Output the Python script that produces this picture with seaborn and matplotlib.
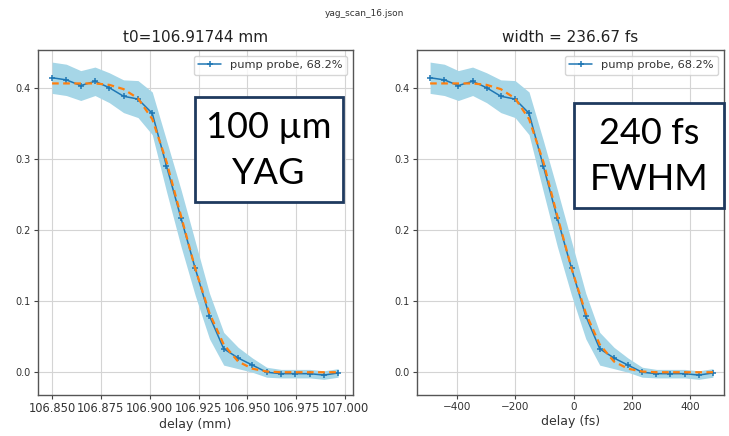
import matplotlib
matplotlib.use("Agg")
import matplotlib.pyplot as plt
import matplotlib.patches as mpatches
import seaborn as sns
import pandas as pd

# ---------------- data ----------------
delay_mm = [106.8500, 106.8573, 106.8647, 106.8720, 106.8793, 106.8866, 106.8940,
            106.9013, 106.9086, 106.9160, 106.9233, 106.9306, 106.9379, 106.9453,
            106.9526, 106.9599, 106.9672, 106.9746, 106.9819, 106.9892, 106.9965]
delay_fs = [-493, -444, -396, -347, -299, -250, -201, -153, -104, -56, -7,
            42, 90, 139, 187, 236, 285, 333, 382, 430, 479]
signal = [0.414, 0.411, 0.403, 0.409, 0.400, 0.388, 0.384, 0.364, 0.290, 0.217,
          0.146, 0.079, 0.033, 0.020, 0.010, 0.000, -0.002, -0.002, -0.002, -0.004, -0.001]
signal_err = [0.022, 0.022, 0.021, 0.020, 0.021, 0.023, 0.026, 0.030, 0.036, 0.040,
              0.038, 0.032, 0.023, 0.015, 0.010, 0.007, 0.006, 0.006, 0.006, 0.006, 0.006]
fit = [0.406, 0.406, 0.406, 0.406, 0.404, 0.398, 0.385, 0.356, 0.296, 0.220,
       0.146, 0.083, 0.039, 0.015, 0.005, 0.001, 0.0, 0.0, 0.0, 0.0, 0.0]

suptitle = "yag_scan_16.json"
titles = ["t0=106.91744 mm", "width = 236.67 fs"]
xlabels = ["delay (mm)", "delay (fs)"]
legend_label = "pump probe, 68.2%"
box_texts = ["100 µm\nYAG", "240 fs\nFWHM"]
mm_ticks = [106.850, 106.875, 106.900, 106.925, 106.950, 106.975, 107.000]
fs_ticks = [-400, -200, 0, 200, 400]
y_ticks = [0.0, 0.1, 0.2, 0.3, 0.4]

# ---------------- styling ----------------
sns.set_theme(style="ticks")
plt.rcParams["font.family"] = ["DejaVu Sans"]

W, H = 729, 436
fig = plt.figure(figsize=(W / 100, H / 100), dpi=100)

def fx(px):
    return px / W

def fy(py):
    return 1 - py / H

ax_top, ax_bot = 50, 395
axL = fig.add_axes([fx(38), fy(ax_bot), fx(353 - 38), (ax_bot - ax_top) / H])
axR = fig.add_axes([fx(417), fy(ax_bot), fx(724 - 417), (ax_bot - ax_top) / H])

band_color = "#a6d6e7"
blue = "#1f77b4"
orange = "#ff7f0e"

for ax, xs, ttl, xl in [(axL, delay_mm, titles[0], xlabels[0]),
                        (axR, delay_fs, titles[1], xlabels[1])]:
    df = pd.DataFrame({"x": xs, "y": signal, "fit": fit})
    lo = [s - e for s, e in zip(signal, signal_err)]
    hi = [s + e for s, e in zip(signal, signal_err)]
    ax.fill_between(xs, lo, hi, color=band_color, lw=0, zorder=1)
    sns.lineplot(data=df, x="x", y="y", ax=ax, color=blue, lw=1.1, marker="+",
                 markersize=4.5, markeredgewidth=1.1, markeredgecolor=blue,
                 markerfacecolor=blue, linestyle="-", label=legend_label, zorder=3)
    sns.lineplot(data=df, x="x", y="fit", ax=ax, color=orange, lw=1.6,
                 linestyle=(0, (3, 2)), zorder=4, label="_nolegend_")
    ax.set_ylim(-0.032, 0.453)
    ax.set_yticks(y_ticks)
    ax.set_yticklabels([f"{v:.1f}" for v in y_ticks], fontsize=7, color="#333333")
    ax.grid(True, color="#d4d4d4", lw=0.8)
    ax.set_axisbelow(True)
    ax.set_title(ttl, fontsize=11, color="#222222", pad=6)
    ax.set_xlabel(xl, fontsize=9, color="#333333", labelpad=2)
    ax.set_ylabel("")
    for sp in ax.spines.values():
        sp.set_color("#555555")
        sp.set_linewidth(1.0)
    ax.tick_params(axis="both", length=3, width=0.8, color="#444444", pad=2)
    handles, labels = ax.get_legend_handles_labels()
    leg = ax.legend(handles[:1], labels[:1], loc="upper right", fontsize=8.2,
                    frameon=True, fancybox=True, framealpha=0.8,
                    edgecolor="#cccccc", handlelength=2.0)
    for t in leg.get_texts():
        t.set_color("#333333")

axL.set_xlim(106.8428, 107.0041)
axL.set_xticks(mm_ticks)
axL.set_xticklabels([f"{v:.3f}" for v in mm_ticks], fontsize=8.3, color="#333333")

axR.set_xlim(-538, 517)
axR.set_xticks(fs_ticks)
axR.set_xticklabels([f"{v}".replace("-", "\u2212") for v in fs_ticks], fontsize=7.5,
                    color="#333333")

fig.text(0.5, fy(13), suptitle, ha="center", va="center", fontsize=6.5, color="#333333")

# overlay annotation boxes
boxes = [(195, 97, 343, 202), (574, 103, 724, 208)]
for (x0, y0, x1, y1), txt in zip(boxes, box_texts):
    rect = mpatches.Rectangle((fx(x0), fy(y1)), fx(x1 - x0), (y1 - y0) / H,
                              transform=fig.transFigure, facecolor="white",
                              edgecolor="#1f3a5f", lw=2, zorder=10)
    fig.add_artist(rect)
    fig.text(fx((x0 + x1) / 2), fy((y0 + y1) / 2 + 1), txt, ha="center", va="center",
             fontsize=26, family=["Lato", "DejaVu Sans"], color="black",
             linespacing=1.5, zorder=11)

fig.savefig("out.png", dpi=100)
